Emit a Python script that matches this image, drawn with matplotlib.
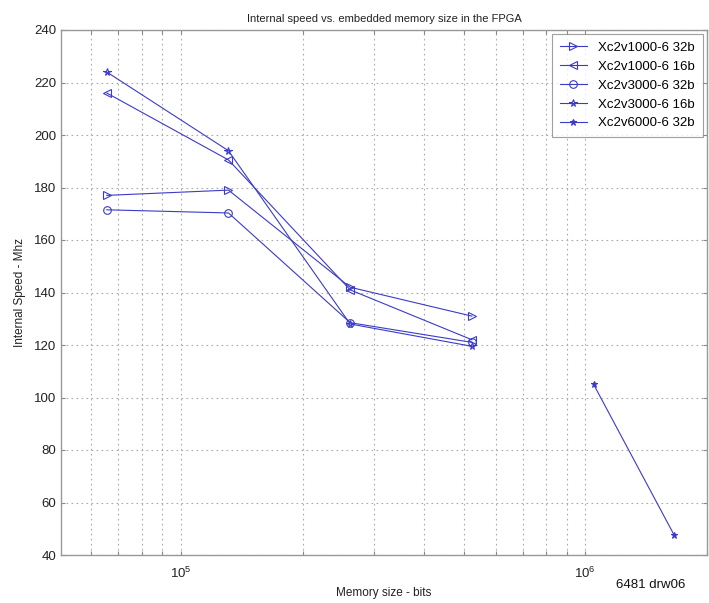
import matplotlib
matplotlib.use("Agg")
import matplotlib.pyplot as plt
from matplotlib.ticker import LogLocator, NullFormatter, FixedLocator

mem_bits = [65536, 131072, 262144, 524288]
s1 = [177, 179, 142, 131]
s2 = [216, 190.5, 141, 122]
s3 = [171.5, 170.3, 128.5, 121]
s4 = [224, 194, 128, 119.5]
mem_bits_6000 = [1048576, 1660000]
s5 = [105, 47.5]
labels = ["Xc2v1000-6 32b", "Xc2v1000-6 16b", "Xc2v3000-6 32b",
          "Xc2v3000-6 16b", "Xc2v6000-6 32b"]
yticks = [40, 60, 80, 100, 120, 140, 160, 180, 200, 220, 240]

plt.rcParams['font.family'] = ['Liberation Sans', 'DejaVu Sans']

fig = plt.figure(figsize=(7.09, 6.03), dpi=100)
ax = fig.add_axes([61/709, 1-555/603, 646/709, 525/603])

col = '#3b3bc8'
kw = dict(color=col, lw=0.8, markersize=5.5, markerfacecolor='none', markeredgewidth=0.8)
ax.plot(mem_bits, s1, marker='>', label=labels[0], **kw)
ax.plot(mem_bits, s2, marker='<', label=labels[1], **kw)
ax.plot(mem_bits, s3, marker='o', label=labels[2], **kw)
ax.plot(mem_bits, s4, marker='*', label=labels[3], **kw)
ax.plot(mem_bits_6000, s5, marker='*', color=col, lw=0.8, markersize=5,
        markerfacecolor=col, markeredgewidth=0.8, label=labels[4])

ax.set_xscale('log')
ax.set_xlim(5.05e4, 2.0e6)
ax.set_ylim(40, 240)
ax.set_yticks(yticks)
ax.xaxis.set_major_locator(FixedLocator([1e5, 1e6]))
ax.xaxis.set_minor_locator(LogLocator(base=10, subs=range(2, 10)))
ax.xaxis.set_minor_formatter(NullFormatter())

ax.grid(True, which='major', axis='both', ls=(0, (1.5, 3)), color='#aaaaaa', lw=0.8)
ax.grid(True, which='minor', axis='x', ls=(0, (1.5, 3)), color='#aaaaaa', lw=0.8)
ax.tick_params(which='both', direction='in', length=3, width=0.8, color='#888888',
               top=True, right=True, labelsize=9.5, labelcolor='#222222')
ax.tick_params(axis='x', pad=8)
for sp in ax.spines.values():
    sp.set_color('#999999')
    sp.set_linewidth(1.0)

ax.set_title("Internal speed vs. embedded memory size in the FPGA", fontsize=8, pad=6, color='#222222')
ax.set_xlabel("Memory size - bits", fontsize=8.5, color='#222222', labelpad=4)
ax.set_ylabel("Internal Speed - Mhz", fontsize=8.5, color='#222222', labelpad=6)

leg = ax.legend(loc='upper right', fontsize=9.5, frameon=True, fancybox=False,
                edgecolor='#888888', borderaxespad=0.3, handlelength=2.0,
                labelspacing=0.5, borderpad=0.6, handletextpad=0.9)
leg.get_frame().set_linewidth(0.8)

fig.text(651/709, 1-585/603, "6481 drw06", fontsize=9.5, ha='center', va='center', color='#111111')

fig.savefig("out.png", dpi=100)
